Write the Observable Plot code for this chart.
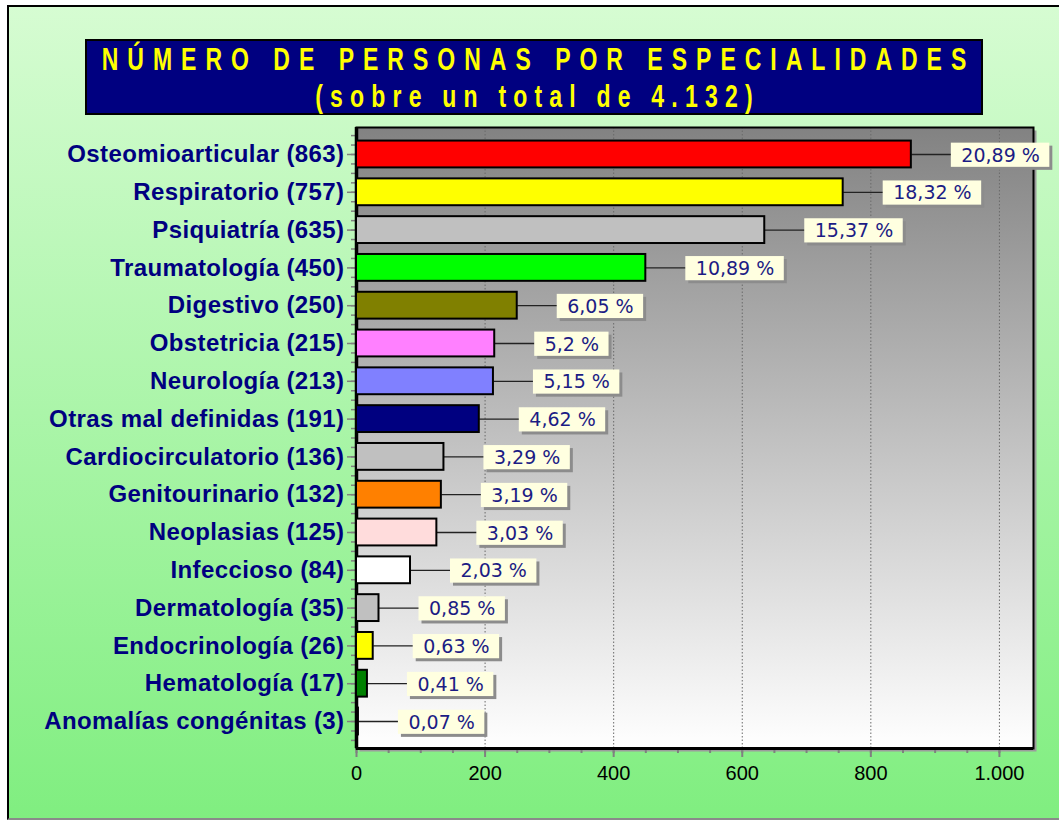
<!DOCTYPE html>
<html><head><meta charset="utf-8">
<script src="https://cdn.jsdelivr.net/npm/d3@7"></script>
<script src="https://cdn.jsdelivr.net/npm/@observablehq/plot@0.6"></script>
<style>
html,body{margin:0;padding:0;background:#fff;}
#page{position:relative;width:1059px;height:820px;overflow:hidden;}
#bg{position:absolute;left:7px;top:5px;width:1060px;height:811px;border-left:2px solid #000;border-top:2px solid #000;border-bottom:2px solid #8a8a8a;background:linear-gradient(#d6fcd2,#80ee80);}
#chart{position:absolute;left:0;top:0;}
#title{position:absolute;left:85px;top:39px;width:894px;height:72px;background:#000080;border:2px solid #000;font-family:"Liberation Sans",Arial,sans-serif;font-weight:bold;color:#ffff00;}
.tl{position:absolute;left:0;right:0;text-align:center;font-size:23px;line-height:23px;transform:scaleY(1.33);white-space:nowrap;}
.ylab text{letter-spacing:0.4px;}
</style></head>
<body>
<div id="page">
  <div id="bg"></div>
  <div id="chart"></div>
  <div id="title">
    <div class="tl" style="top:8px;letter-spacing:9px;padding-left:9px;">NÚMERO DE PERSONAS POR ESPECIALIDADES</div>
    <div class="tl" style="top:45px;letter-spacing:7.2px;padding-left:7px;">(sobre un total de 4.132)</div>
  </div>
</div>
<script>
const categories = ["Osteomioarticular","Respiratorio","Psiquiatría","Traumatología","Digestivo","Obstetricia","Neurología","Otras mal definidas","Cardiocirculatorio","Genitourinario","Neoplasias","Infeccioso","Dermatología","Endocrinología","Hematología","Anomalías congénitas"];
const values = [863,757,635,450,250,215,213,191,136,132,125,84,35,26,17,3];
const percents = [20.89,18.32,15.37,10.89,6.05,5.2,5.15,4.62,3.29,3.19,3.03,2.03,0.85,0.63,0.41,0.07];
const colors = ["#ff0000","#ffff00","#c0c0c0","#00ff00","#808000","#ff80ff","#8080ff","#000080","#c0c0c0","#ff8000","#ffdcdc","#ffffff","#c0c0c0","#ffff00","#008000","#ffffff"];
const xTicks = [0,200,400,600,800,1000];

const W = 1059, H = 820, ML = 356, MR = 26, MT = 127, MB = 72;
const xMax = 1053;
const k = (W - ML - MR) / xMax;
const nf = d3.formatLocale({decimal: ",", thousands: ".", grouping: [3], currency: ["", ""]}).format(",");
const pf = v => String(v).replace(".", ",") + " %";

const ctx = document.createElement("canvas").getContext("2d");
ctx.font = '19px "DejaVu Sans"';
const rows = categories.map((c, i) => {
  const pct = pf(percents[i]);
  const bw = ctx.measureText(pct).width + 20;
  const bx1 = values[i] + 40 / k;
  const bx2 = bx1 + bw / k;
  return {i, label: `${c} (${values[i]})`, value: values[i], pct, color: colors[i], bx1, bx2, bxm: (bx1 + bx2) / 2};
});
const n = categories.length;

const plot = Plot.plot({
  width: W, height: H,
  marginLeft: ML, marginRight: MR, marginTop: MT, marginBottom: MB,
  style: {background: "none", fontFamily: "'Liberation Sans', Arial, sans-serif", overflow: "visible"},
  x: {domain: [0, xMax], label: null},
  y: {domain: [-0.714, n - 1 + 0.714], reverse: true, label: null},
  color: {type: "identity"},
  marks: [
    Plot.frame({fill: "#9c9c9c", dx: 3, dy: 3}),
    Plot.frame({fill: "url(#pg)"}),
    Plot.gridX(xTicks.slice(1), {stroke: "#6a6a6a", strokeOpacity: 1, strokeDasharray: "1.5,2"}),
    Plot.axisX(d3.range(0, 1001, 50), {tickSize: 5, tickFormat: () => "", stroke: "#808080", strokeWidth: 2, label: null}),
    Plot.axisX(xTicks, {tickSize: 9, tickPadding: 8, tickFormat: nf, stroke: "#808080", strokeWidth: 2, fill: "#000", fontSize: 20, label: null}),
    Plot.axisY(d3.range(-0.5, n - 0.49, 0.25), {tickSize: 5, tickFormat: () => "", stroke: "#808080", strokeWidth: 1.5, label: null}),
    Plot.axisY(d3.range(0, n), {tickSize: 9, tickPadding: 3, tickFormat: i => rows[i].label, stroke: "#808080", strokeWidth: 1.5, fill: "#000080", fontSize: 24, fontWeight: "bold", className: "ylab", label: null}),
    Plot.frame({stroke: "#000", strokeWidth: 2}),
    Plot.ruleX([0], {stroke: "#000", strokeWidth: 3.5}),
    Plot.ruleY([n - 1 + 0.714], {stroke: "#000", strokeWidth: 3}),
    Plot.link(rows, {x1: "value", x2: "bx1", y1: "i", y2: "i", stroke: "#222", strokeWidth: 1.3}),
    Plot.rect(rows, {x1: "bx1", x2: "bx2", y1: d => d.i - 0.3, y2: d => d.i + 0.34, fill: "#8c8c8c", dx: 3, dy: 3}),
    Plot.rect(rows, {x1: "bx1", x2: "bx2", y1: d => d.i - 0.3, y2: d => d.i + 0.34, fill: "#ffffe0"}),
    Plot.text(rows, {x: "bxm", y: "i", text: "pct", fill: "#1c1c84", fontSize: 19, fontFamily: "DejaVu Sans", dy: 1}),
    Plot.rect(rows, {x1: 0, x2: "value", y1: d => d.i - 0.355, y2: d => d.i + 0.355, fill: "color", stroke: "#000", strokeWidth: 2})
  ]
});
d3.select(plot).insert("defs", ":first-child").html(
  '<linearGradient id="pg" x1="0" y1="0" x2="0" y2="1"><stop offset="0" stop-color="#828282"/><stop offset="1" stop-color="#ffffff"/></linearGradient>'
);
document.getElementById("chart").appendChild(plot);
</script>
</body></html>
